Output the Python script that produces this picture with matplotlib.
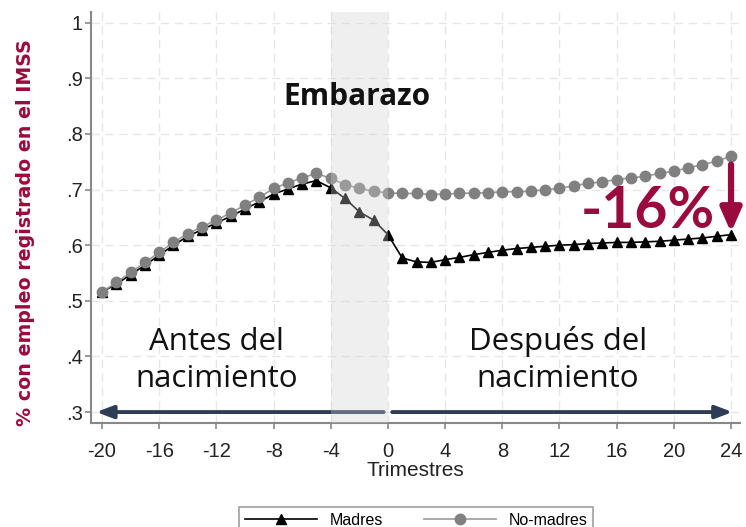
import matplotlib
matplotlib.use('Agg')
import matplotlib.pyplot as plt
import numpy as np

# quarters relative to birth
quarters = list(range(-20, 25))

madres = [0.516, 0.530, 0.547, 0.564, 0.582, 0.600, 0.616, 0.628, 0.640, 0.652,
          0.665, 0.678, 0.692, 0.701, 0.710, 0.716, 0.703, 0.684, 0.660, 0.645,
          0.619, 0.577, 0.570, 0.569, 0.574, 0.578, 0.583, 0.587, 0.591, 0.594,
          0.596, 0.598, 0.600, 0.601, 0.603, 0.604, 0.605, 0.605, 0.606, 0.607,
          0.609, 0.611, 0.613, 0.616, 0.619]

no_madres = [0.516, 0.533, 0.551, 0.569, 0.587, 0.605, 0.621, 0.633, 0.645, 0.658,
             0.672, 0.686, 0.702, 0.712, 0.721, 0.729, 0.720, 0.709, 0.702, 0.697,
             0.694, 0.693, 0.693, 0.691, 0.692, 0.693, 0.694, 0.694, 0.696, 0.696,
             0.697, 0.700, 0.702, 0.707, 0.711, 0.714, 0.718, 0.721, 0.724, 0.729,
             0.733, 0.739, 0.745, 0.751, 0.760]

xticks = list(range(-20, 25, 4))
yticks = [0.3, 0.4, 0.5, 0.6, 0.7, 0.8, 0.9, 1.0]
ytick_labels = ['.3', '.4', '.5', '.6', '.7', '.8', '.9', '1']

maroon = '#9b0a3c'
navy = '#2e3d55'

plt.rcParams['font.family'] = ['Liberation Sans', 'DejaVu Sans']
plt.rcParams['axes.unicode_minus'] = False

fig = plt.figure(figsize=(7.46, 5.27), dpi=100)
ax = fig.add_axes([0.122, 0.197, 0.870, 0.780])

ax.plot(quarters, madres, color='black', lw=1.2, marker='^', markersize=7.5,
        markerfacecolor='black', markeredgecolor='black', label='Madres', zorder=3)
ax.plot(quarters, no_madres, color='#9a9a9a', lw=1.2, marker='o', markersize=7.5,
        markerfacecolor='#808080', markeredgecolor='#808080', label='No-madres', zorder=4)

# time direction arrows along the bottom
navy_style = dict(arrowstyle='-|>,head_length=1.0,head_width=0.38', lw=2.8,
                  color=navy, shrinkA=0, shrinkB=0, mutation_scale=10)
ax.annotate('', xy=(-20.4, 0.3), xytext=(-0.3, 0.3), arrowprops=navy_style, zorder=2)
ax.annotate('', xy=(24.1, 0.3), xytext=(0.3, 0.3), arrowprops=navy_style, zorder=2)

# pregnancy window
ax.axvspan(-4, 0, color='#d1d1d1', alpha=0.33, lw=0, zorder=5)

# gap at the end of the window
ax.annotate('', xy=(24, 0.623), xytext=(24, 0.745),
            arrowprops=dict(arrowstyle='-|>,head_length=1.4,head_width=0.62', lw=4.5,
                            color=maroon, shrinkA=0, shrinkB=0, mutation_scale=10),
            zorder=6)
ax.text(18.2, 0.66, '-16%', color=maroon, fontsize=41, fontweight='bold',
        family='Lato', ha='center', va='center', zorder=7)

ax.text(-2.2, 0.866, 'Embarazo', fontsize=21.5, fontweight='bold', family='Open Sans',
        ha='center', va='center', color='#111111', zorder=7)
ax.text(-12.0, 0.393, 'Antes del\nnacimiento', fontsize=22.5, family='Open Sans',
        ha='center', va='center', linespacing=1.3, color='#111111', zorder=7)
ax.text(11.9, 0.393, 'Después del\nnacimiento', fontsize=22.5, family='Open Sans',
        ha='center', va='center', linespacing=1.3, color='#111111', zorder=7)

ax.set_xlim(-20.77, 24.63)
ax.set_ylim(0.28, 1.019)
ax.set_xticks(xticks)
ax.set_yticks(yticks)
ax.set_yticklabels(ytick_labels)
ax.tick_params(axis='both', labelsize=14.5, color='#888888', length=4.5, width=1.2,
               labelcolor='#222222')
ax.tick_params(axis='x', pad=9)
ax.tick_params(axis='y', pad=1.5)
ax.grid(True, color='#e6e6e6', linestyle=(0, (6, 4)), lw=1)
ax.set_axisbelow(True)

for side in ['top', 'right']:
    ax.spines[side].set_visible(False)
for side in ['left', 'bottom']:
    ax.spines[side].set_color('#888888')
    ax.spines[side].set_linewidth(1.5)

ax.set_xlabel('Trimestres', fontsize=15, color='#222222', labelpad=0)
ax.set_ylabel('% con empleo registrado en el IMSS', fontsize=13.7, fontweight='bold',
              color=maroon, family='DejaVu Sans')
ax.yaxis.set_label_coords(-0.087, 0.463)

leg = fig.legend(loc='upper center', bbox_to_anchor=(0.558, 1 - 499 / 527), ncol=2,
                 fontsize=11.5, handlelength=4.5, frameon=True, fancybox=False,
                 edgecolor='#888888', borderpad=0.35, columnspacing=2.6)
leg.get_frame().set_linewidth(1.2)

fig.savefig('out.png', dpi=100)
